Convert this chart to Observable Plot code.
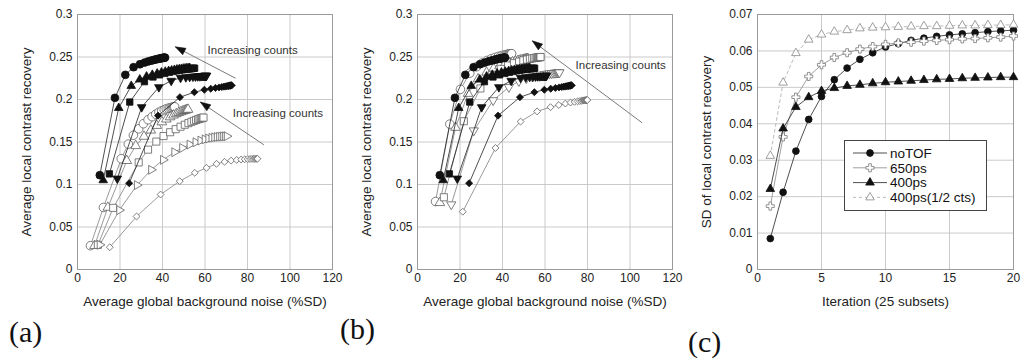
<!DOCTYPE html>
<html><head><meta charset="utf-8">
<script src="https://cdn.jsdelivr.net/npm/d3@7"></script>
<script src="https://cdn.jsdelivr.net/npm/@observablehq/plot@0.6"></script>
<style>
body{margin:0;background:#fff;}
#wrap{position:relative;width:1021px;height:360px;overflow:hidden;background:#fff;font-family:"Liberation Sans",Arial,sans-serif;}
.panel{position:absolute;top:0;}
.tag{position:absolute;font-family:"Liberation Serif","Times New Roman",serif;font-size:30px;color:#111;line-height:1;}
g[aria-label="x-axis label"] text, g[aria-label="y-axis label"] text{font-size:13.5px;}
</style></head>
<body><div id="wrap"></div>
<script>
// ---------- tick values ----------
const xTicksAB = [0, 20, 40, 60, 80, 100, 120];
const yTicksAB = [0, 0.05, 0.1, 0.15, 0.2, 0.25, 0.3];
const xTicksC = [0, 5, 10, 15, 20];
const yTicksC = [0, 0.01, 0.02, 0.03, 0.04, 0.05, 0.06, 0.07];

// ---------- panels (a)/(b): filled series (shared) ----------
const fCircX = [10.5, 17.6, 22.5, 26.4, 29.4, 31.6, 33.3, 34.6, 35.7, 36.6, 37.3, 38.0, 38.6, 39.1, 39.5, 39.9, 40.3, 40.6, 40.9, 41.2];
const fCircY = [0.111, 0.202, 0.229, 0.238, 0.2415, 0.2435, 0.2448, 0.2457, 0.2464, 0.247, 0.2474, 0.2478, 0.2481, 0.2484, 0.2486, 0.2488, 0.249, 0.2491, 0.2492, 0.2493];
const fTriX = [12.1, 19.4, 25.3, 29.3, 32.5, 35.2, 37.5, 39.5, 41.3, 42.9, 44.3, 45.6, 46.8, 47.9, 48.9, 49.8, 50.6, 51.4, 52.1, 52.8];
const fTriY = [0.105, 0.190, 0.216, 0.2235, 0.227, 0.229, 0.2305, 0.2317, 0.2327, 0.2335, 0.2342, 0.2348, 0.2353, 0.2357, 0.236, 0.2363, 0.2365, 0.2367, 0.2369, 0.237];
const fSqX = [15.0, 24.6, 31.5, 35.5, 38.6, 41.1, 43.2, 45.0, 46.6, 48.0, 49.2, 50.3, 51.2, 52.0, 52.7, 53.3, 53.8, 54.3, 54.7, 55.1];
const fSqY = [0.1125, 0.197, 0.221, 0.2265, 0.229, 0.2307, 0.232, 0.233, 0.2338, 0.2344, 0.2349, 0.2353, 0.2356, 0.2359, 0.2361, 0.2363, 0.2365, 0.2366, 0.2367, 0.2368];
const fDtriX = [18.7, 30.2, 38.3, 44.1, 48.5, 51.0, 52.8, 54.3, 55.5, 56.5, 57.3, 58.0, 58.6, 59.1, 59.5, 59.8, 60.1, 60.3, 60.5, 60.7];
const fDtriY = [0.107, 0.191, 0.2145, 0.222, 0.2255, 0.2262, 0.2266, 0.2269, 0.2271, 0.2273, 0.2274, 0.2275, 0.2276, 0.2277, 0.2278, 0.2278, 0.2279, 0.2279, 0.228, 0.228];
const fDiaX = [24.3, 37.9, 48.2, 55.0, 59.7, 62.7, 64.9, 66.6, 67.9, 68.9, 69.7, 70.3, 70.8, 71.2, 71.5, 71.8, 72.0, 72.2, 72.4, 72.5];
const fDiaY = [0.1015, 0.181, 0.2027, 0.2086, 0.2114, 0.2127, 0.2136, 0.2142, 0.2147, 0.2151, 0.2154, 0.2157, 0.2159, 0.2161, 0.2162, 0.2163, 0.2164, 0.2165, 0.2166, 0.2166];

// ---------- panel (a): open series ----------
const aCircX = [6.1, 12.2, 20.6, 23.9, 26.3, 28.8, 31.0, 33.2, 35.1, 36.8, 38.3, 39.6, 40.8, 41.8, 42.7, 43.5, 44.2, 44.8, 45.3, 45.7];
const aCircY = [0.028, 0.073, 0.1303, 0.1475, 0.158, 0.1655, 0.1715, 0.1762, 0.1798, 0.1827, 0.185, 0.1867, 0.188, 0.189, 0.1897, 0.1903, 0.1907, 0.191, 0.1912, 0.1914];
const aTriX = [8.0, 14.3, 23.2, 27.4, 31.3, 34.5, 37.3, 39.7, 41.8, 43.6, 45.2, 46.5, 47.6, 48.6, 49.4, 50.1, 50.7, 51.2, 51.6, 52.0];
const aTriY = [0.028, 0.073, 0.128, 0.1455, 0.1565, 0.1638, 0.1693, 0.1735, 0.1768, 0.1794, 0.1815, 0.1831, 0.1844, 0.1854, 0.1862, 0.1868, 0.1873, 0.1877, 0.188, 0.1883];
const aSqX = [9.6, 16.8, 28.8, 33.2, 37.1, 40.5, 43.6, 46.2, 48.5, 50.5, 52.2, 53.6, 54.8, 55.8, 56.7, 57.4, 58.0, 58.5, 58.9, 59.3];
const aSqY = [0.029, 0.0725, 0.126, 0.141, 0.1505, 0.157, 0.1615, 0.1651, 0.168, 0.1703, 0.1722, 0.1737, 0.1749, 0.1759, 0.1767, 0.1773, 0.1778, 0.1782, 0.1785, 0.1787];
const aRtriX = [10.5, 19.7, 28.0, 34.7, 40.3, 45.6, 49.3, 52.8, 55.6, 57.9, 59.9, 61.6, 63.1, 64.4, 65.6, 66.7, 67.7, 68.6, 69.5, 70.3];
const aRtriY = [0.029, 0.0698, 0.0993, 0.1173, 0.129, 0.138, 0.143, 0.147, 0.1497, 0.1517, 0.1531, 0.1541, 0.1549, 0.1555, 0.1559, 0.1562, 0.1564, 0.1566, 0.1567, 0.1568];
const aDiaX = [15.2, 27.8, 39.1, 48.1, 55.2, 60.7, 65.4, 69.2, 72.3, 74.9, 77.0, 78.7, 80.1, 81.2, 82.1, 82.9, 83.5, 84.0, 84.4, 84.7];
const aDiaY = [0.0262, 0.0624, 0.0882, 0.1039, 0.1137, 0.1196, 0.1243, 0.1267, 0.1281, 0.1289, 0.1294, 0.1297, 0.1299, 0.13, 0.1301, 0.1302, 0.1302, 0.1303, 0.1303, 0.1303];

// ---------- panel (b): open series ----------
const bCircX = [8.5, 15.2, 20.2, 24.6, 27.8, 30.5, 32.8, 34.8, 36.5, 38.0, 39.2, 40.2, 41.1, 41.8, 42.4, 42.9, 43.3, 43.7, 44.0, 44.3];
const bCircY = [0.08, 0.171, 0.212, 0.231, 0.2385, 0.243, 0.246, 0.248, 0.2495, 0.2506, 0.2514, 0.252, 0.2525, 0.2529, 0.2532, 0.2534, 0.2536, 0.2537, 0.2538, 0.2539];
const bTriX = [10.5, 17.9, 23.8, 28.5, 32.5, 35.8, 38.6, 41.0, 43.0, 44.7, 46.1, 47.3, 48.3, 49.1, 49.8, 50.4, 50.9, 51.3, 51.7, 52.0];
const bTriY = [0.0785, 0.167, 0.207, 0.224, 0.232, 0.2365, 0.2395, 0.2415, 0.243, 0.2442, 0.2451, 0.2458, 0.2463, 0.2467, 0.247, 0.2473, 0.2475, 0.2477, 0.2478, 0.2479];
const bSqX = [12.4, 21.8, 29.6, 35.0, 39.2, 42.6, 45.4, 47.8, 49.8, 51.5, 52.9, 54.0, 54.9, 55.6, 56.2, 56.7, 57.1, 57.4, 57.7, 57.9];
const bSqY = [0.085, 0.1745, 0.213, 0.229, 0.236, 0.24, 0.2427, 0.2446, 0.246, 0.247, 0.2478, 0.2484, 0.2488, 0.2491, 0.2494, 0.2496, 0.2497, 0.2498, 0.2499, 0.25];
const bDtriX = [15.9, 26.5, 35.6, 43.0, 47.7, 51.2, 54.0, 56.3, 58.2, 59.8, 61.1, 62.2, 63.1, 63.9, 64.6, 65.2, 65.7, 66.1, 66.5, 66.8];
const bDtriY = [0.0765, 0.1635, 0.199, 0.2145, 0.2215, 0.2248, 0.2268, 0.2281, 0.229, 0.2297, 0.2302, 0.2306, 0.2309, 0.2311, 0.2313, 0.2314, 0.2315, 0.2316, 0.2317, 0.2318];
const bDiaX = [21.3, 36.7, 48.5, 56.3, 62.6, 66.5, 69.6, 72.0, 73.9, 75.3, 76.4, 77.2, 77.8, 78.3, 78.7, 79.0, 79.3, 79.5, 79.7, 79.9];
const bDiaY = [0.068, 0.143, 0.174, 0.186, 0.191, 0.1935, 0.1952, 0.1964, 0.1972, 0.1978, 0.1982, 0.1985, 0.1987, 0.1989, 0.199, 0.1991, 0.1992, 0.1993, 0.1993, 0.1994];

// ---------- panel (c) ----------
const iterations = [1,2,3,4,5,6,7,8,9,10,11,12,13,14,15,16,17,18,19,20];
const cNoTOF = [0.0085, 0.0212, 0.0325, 0.0412, 0.0475, 0.0521, 0.0553, 0.0577, 0.0595, 0.0611, 0.062, 0.0629, 0.0635, 0.064, 0.0644, 0.0647, 0.065, 0.0653, 0.0655, 0.0657];
const c650 = [0.0174, 0.0364, 0.0473, 0.053, 0.0562, 0.0582, 0.0595, 0.0605, 0.0612, 0.0618, 0.0622, 0.0624, 0.0627, 0.0629, 0.0631, 0.0633, 0.0634, 0.0636, 0.0638, 0.0641];
const c400 = [0.0221, 0.0387, 0.0446, 0.0473, 0.049, 0.0498, 0.0504, 0.0507, 0.0511, 0.0514, 0.0516, 0.0518, 0.052, 0.0522, 0.0523, 0.0525, 0.0526, 0.0527, 0.0528, 0.0528];
const c400half = [0.0312, 0.0513, 0.0594, 0.0631, 0.0645, 0.0653, 0.0657, 0.0662, 0.0664, 0.0665, 0.0666, 0.0667, 0.0668, 0.0668, 0.0669, 0.067, 0.067, 0.0671, 0.0671, 0.0672];
const cNames = ["noTOF", "650ps", "400ps", "400ps(1/2 cts)"];

// ---------- annotations ----------
const annText = "Increasing counts";
const aArrowTail = [[74.4, 0.225], [87.7, 0.1467]];
const aArrowTip = [[46.0, 0.2620], [57.8, 0.197]];
const aTextPos = [[61.2, 0.2576], [73.1, 0.1835]];
const bArrowTail = [[105.7, 0.1726]];
const bArrowTip = [[54.0, 0.269]];
const bTextPos = [[74.4, 0.240]];

// ---------- styles ----------
const FILL_LINE = "#222", OPEN_LINE = "#808080", OPEN_STROKE = "#606060";
const filled = (symbol, r, rotate = 0) => ({symbol, r, rotate, fill: "#111", stroke: "#111", line: FILL_LINE});
const open = (symbol, r, rotate = 0) => ({symbol, r, rotate, fill: "white", stroke: OPEN_STROKE, line: OPEN_LINE});

const filledSeries = [
  [fCircX, fCircY, filled("circle", 3.9)],
  [fTriX, fTriY, filled("triangle", 3.2)],
  [fSqX, fSqY, filled("square", 3.6)],
  [fDtriX, fDtriY, filled("triangle", 3.2, 180)],
  [fDiaX, fDiaY, filled("diamond2", 3.2)]
];
const aOpen = [
  [aCircX, aCircY, open("circle", 4.3)],
  [aTriX, aTriY, open("triangle", 3.6)],
  [aSqX, aSqY, open("square", 4)],
  [aRtriX, aRtriY, open("triangle", 3.3, 90)],
  [aDiaX, aDiaY, open("diamond2", 3.1)]
];
const bOpen = [
  [bCircX, bCircY, open("circle", 4.3)],
  [bTriX, bTriY, open("triangle", 3.6)],
  [bSqX, bSqY, open("square", 4)],
  [bDtriX, bDtriY, open("triangle", 3.4, 180)],
  [bDiaX, bDiaY, open("diamond2", 3.1)]
];
const cSeries = [
  [iterations, cNoTOF, {symbol: "circle", r: 3.4, rotate: 0, fill: "#111", stroke: "#111", line: "#222", dash: null}],
  [iterations, c650, {symbol: "cross", r: 3.4, rotate: 0, fill: "white", stroke: "#777", line: "#888", dash: null}],
  [iterations, c400, {symbol: "triangle", r: 3.2, rotate: 0, fill: "#111", stroke: "#111", line: "#222", dash: null}],
  [iterations, c400half, {symbol: "triangle", r: 3.2, rotate: 0, fill: "white", stroke: "#888", line: "#aaa", dash: "3,3"}]
];

// narrow arrowhead with its tip at the anchor point, pointing up before rotation
const arrowHead = {
  draw(ctx, size) {
    const r = Math.sqrt(size / Math.PI);
    ctx.moveTo(0, 0);
    ctx.lineTo(0.95 * r, 2.7 * r);
    ctx.lineTo(-0.95 * r, 2.7 * r);
    ctx.closePath();
  }
};

// ---------- layout ----------
const H = 320, ML = 77, MR = 8, MT = 14, MB = 51;
const wrap = document.getElementById("wrap");
const fmt = d => String(+(+d).toFixed(4));

function rows(xs, ys) { return xs.map((x, i) => ({x, y: ys[i]})); }

function seriesMarks(list) {
  const marks = [];
  for (const [xs, ys, st] of list) {
    const d = rows(xs, ys);
    marks.push(Plot.line(d, {x: "x", y: "y", stroke: st.line, strokeWidth: 0.8, strokeDasharray: st.dash || null}));
    marks.push(Plot.dot(d, {x: "x", y: "y", symbol: st.symbol, r: st.r, rotate: st.rotate, fill: st.fill, stroke: st.stroke, strokeWidth: 0.8}));
  }
  return marks;
}

function arrowMarks(tails, tips, texts, W, xDomain, yDomain) {
  const xs = Plot.scale({x: {domain: xDomain, range: [ML, W - MR]}});
  const ys = Plot.scale({y: {domain: yDomain, range: [H - MB, MT]}});
  const links = tails.map((t, i) => ({x1: t[0], y1: t[1], x2: tips[i][0], y2: tips[i][1]}));
  const heads = tips.map((p, i) => {
    const dx = xs.apply(p[0]) - xs.apply(tails[i][0]);
    const dy = ys.apply(p[1]) - ys.apply(tails[i][1]);
    return {x: p[0], y: p[1], a: Math.atan2(dx, -dy) * 180 / Math.PI};
  });
  const labels = texts.map(p => ({x: p[0], y: p[1], t: annText}));
  return [
    Plot.link(links, {x1: "x1", y1: "y1", x2: "x2", y2: "y2", stroke: "#7a7a7a", strokeWidth: 1}),
    Plot.dot(heads, {x: "x", y: "y", symbol: arrowHead, r: 3.8, rotate: "a", fill: "#111", stroke: "#111", strokeWidth: 0.5}),
    Plot.text(labels, {x: "x", y: "y", text: "t", textAnchor: "start", fontSize: 11.5, fill: "#333"})
  ];
}

function makePanel({left, W, xDomain, yDomain, xTicks, yTicks, xLabel, yLabel, marks}) {
  const p = Plot.plot({
    width: W, height: H,
    marginLeft: ML, marginRight: MR, marginTop: MT, marginBottom: MB,
    style: {fontFamily: "'Liberation Sans', Arial, sans-serif", fontSize: "12px", color: "#222", background: "transparent", overflow: "visible"},
    x: {domain: xDomain},
    y: {domain: yDomain},
    marks: [
      Plot.gridX(xTicks, {stroke: "#c4c4c4", strokeOpacity: 1, strokeWidth: 0.9}),
      Plot.gridY(yTicks, {stroke: "#c4c4c4", strokeOpacity: 1, strokeWidth: 0.9}),
      Plot.frame({stroke: "#9a9a9a", strokeWidth: 1}),
      Plot.axisX({ticks: xTicks, tickSize: 0, tickPadding: 4, tickFormat: fmt, label: xLabel, labelAnchor: "center", labelArrow: "none", labelOffset: 36}),
      Plot.axisY({ticks: yTicks, tickSize: 0, tickPadding: 5, tickFormat: fmt, label: yLabel, labelAnchor: "center", labelArrow: "none", labelOffset: 56}),
      ...marks
    ]
  });
  p.classList.add("panel");
  p.style.left = left + "px";
  wrap.appendChild(p);
  return p;
}

const xDomAB = [0, 120], yDomAB = [0, 0.3];
makePanel({left: 0, W: 340, xDomain: xDomAB, yDomain: yDomAB, xTicks: xTicksAB, yTicks: yTicksAB,
  xLabel: "Average global background noise (%SD)", yLabel: "Average local contrast recovery",
  marks: [...seriesMarks(aOpen), ...seriesMarks(filledSeries), ...arrowMarks(aArrowTail, aArrowTip, aTextPos, 340, xDomAB, yDomAB)]});
makePanel({left: 340, W: 340, xDomain: xDomAB, yDomain: yDomAB, xTicks: xTicksAB, yTicks: yTicksAB,
  xLabel: "Average global background noise (%SD)", yLabel: "Average local contrast recovery",
  marks: [...seriesMarks(bOpen), ...seriesMarks(filledSeries), ...arrowMarks(bArrowTail, bArrowTip, bTextPos, 340, xDomAB, yDomAB)]});
makePanel({left: 680, W: 341, xDomain: [0, 20], yDomain: [0, 0.07], xTicks: xTicksC, yTicks: yTicksC,
  xLabel: "Iteration (25 subsets)", yLabel: "SD of local contrast recovery",
  marks: seriesMarks(cSeries)});

// ---------- legend (panel c) ----------
const leg = d3.select(wrap).append("svg")
  .attr("width", 1021).attr("height", 360)
  .style("position", "absolute").style("left", "0px").style("top", "0px");
const lx = 844, ly = 140, lw = 142, lh = 70;
leg.append("rect").attr("x", lx + 0.5).attr("y", ly + 0.5).attr("width", lw).attr("height", lh)
  .attr("fill", "white").attr("stroke", "#444").attr("stroke-width", 1);
cSeries.forEach(([, , st], i) => {
  const yy = ly + 13 + i * 14.8;
  leg.append("line").attr("x1", lx + 9).attr("x2", lx + 43).attr("y1", yy).attr("y2", yy)
    .attr("stroke", st.line).attr("stroke-width", 0.8).attr("stroke-dasharray", st.dash);
  const symMap = {circle: d3.symbolCircle, cross: d3.symbolCross, triangle: d3.symbolTriangle};
  leg.append("path").attr("d", d3.symbol(symMap[st.symbol], Math.PI * st.r * st.r)())
    .attr("transform", `translate(${lx + 26},${yy})`)
    .attr("fill", st.fill).attr("stroke", st.stroke).attr("stroke-width", 0.8);
  leg.append("text").attr("x", lx + 46).attr("y", yy).attr("dy", "0.35em")
    .attr("font-family", "'Liberation Sans', Arial, sans-serif").attr("font-size", 13.5).attr("fill", "#111")
    .text(cNames[i]);
});

// ---------- panel tags ----------
[["(a)", 9, 317], ["(b)", 340, 314], ["(c)", 688, 327]].forEach(([t, x, y]) => {
  const d = document.createElement("div");
  d.className = "tag"; d.textContent = t;
  d.style.left = x + "px"; d.style.top = y + "px";
  wrap.appendChild(d);
});
</script></body></html>
